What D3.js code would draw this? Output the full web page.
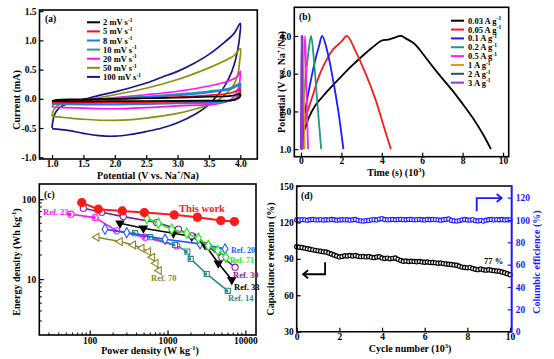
<!DOCTYPE html>
<html><head><meta charset="utf-8">
<script src="https://cdn.jsdelivr.net/npm/d3@7"></script>
<style>
body{margin:0;background:#fff}
svg{font-family:"Liberation Serif","Times New Roman",serif;font-weight:bold}
</style></head><body>
<svg id="c" width="554" height="359"></svg>
<script>
// ---------- Panel (a): CV curves, [potential V, current mA] ----------
const cvLabels = ["2", "5", "8", "10", "20", "50", "100"];
const cvColors = ["#000000", "#ff1010", "#1e78ff", "#21a07e", "#ff10ff", "#8f8f10", "#14148c"];
const cv2 = [[1.0,-0.04],[1.05,-0.02],[1.5,-0.01],[2.0,0.0],[2.5,0.01],[3.0,0.02],[3.5,0.035],[3.85,0.05],[4.0,0.08],[4.0,0.05],[3.97,0.01],[3.9,-0.02],[3.5,-0.03],[3.0,-0.035],[2.0,-0.04],[1.5,-0.045],[1.0,-0.04]];
const cv5 = [[1.0,-0.06],[1.05,-0.04],[1.5,-0.02],[2.0,-0.01],[2.5,0.01],[3.0,0.03],[3.5,0.06],[3.85,0.1],[4.0,0.16],[4.0,0.12],[3.97,0.03],[3.9,-0.02],[3.5,-0.04],[3.0,-0.05],[2.0,-0.06],[1.5,-0.065],[1.0,-0.06]];
const cv8 = [[1.0,-0.08],[1.05,-0.05],[1.5,-0.02],[2.0,0.0],[2.5,0.03],[3.0,0.06],[3.5,0.11],[3.85,0.17],[4.0,0.24],[4.0,0.2],[3.98,0.08],[3.93,0.0],[3.8,-0.04],[3.5,-0.06],[3.0,-0.07],[2.0,-0.09],[1.5,-0.09],[1.0,-0.08]];
const cv10 = [[1.0,-0.09],[1.05,-0.05],[1.5,-0.02],[2.0,0.01],[2.5,0.04],[3.0,0.08],[3.5,0.13],[3.85,0.19],[4.0,0.27],[4.0,0.24],[3.98,0.12],[3.93,0.02],[3.8,-0.04],[3.5,-0.07],[3.0,-0.08],[2.0,-0.1],[1.5,-0.1],[1.0,-0.09]];
const cv20 = [[1.0,-0.14],[1.05,-0.07],[1.2,-0.04],[1.5,-0.02],[2.0,0.02],[2.5,0.07],[3.0,0.13],[3.5,0.22],[3.8,0.3],[3.95,0.38],[4.0,0.47],[4.0,0.44],[3.99,0.3],[3.96,0.15],[3.9,0.04],[3.8,-0.04],[3.6,-0.09],[3.0,-0.12],[2.5,-0.15],[2.0,-0.17],[1.5,-0.16],[1.2,-0.15],[1.0,-0.14]];
const cv50 = [[1.0,-0.30],[1.02,-0.2],[1.08,-0.12],[1.2,-0.07],[1.5,-0.02],[2.0,0.07],[2.5,0.18],[3.0,0.33],[3.5,0.53],[3.75,0.65],[3.9,0.74],[4.0,0.86],[3.99,0.65],[3.96,0.42],[3.9,0.25],[3.8,0.12],[3.65,-0.02],[3.5,-0.1],[3.3,-0.17],[3.0,-0.25],[2.5,-0.33],[2.0,-0.37],[1.5,-0.35],[1.2,-0.32],[1.0,-0.30]];
const cv100 = [[1.0,-0.50],[1.01,-0.40],[1.03,-0.30],[1.07,-0.21],[1.15,-0.13],[1.3,-0.06],[1.5,-0.01],[1.75,0.06],[2.0,0.12],[2.25,0.19],[2.5,0.27],[2.75,0.37],[3.0,0.47],[3.25,0.60],[3.5,0.76],[3.75,0.97],[3.9,1.12],[4.0,1.29],[3.99,1.08],[3.96,0.85],[3.9,0.58],[3.82,0.36],[3.72,0.17],[3.6,0.02],[3.5,-0.1],[3.3,-0.25],[3.0,-0.41],[2.75,-0.5],[2.5,-0.56],[2.25,-0.61],[2.0,-0.64],[1.75,-0.63],[1.5,-0.59],[1.25,-0.54],[1.0,-0.51]];
const cvSeries = [cv2, cv5, cv8, cv10, cv20, cv50, cv100];
const aXTicks = [1.0, 1.5, 2.0, 2.5, 3.0, 3.5, 4.0];
const aYTicks = [-1.0, -0.5, 0.0, 0.5, 1.0, 1.5];

// ---------- Panel (b): GCD curves, [time 10^3 s, potential V] ----------
const gcdLabels = ["0.03", "0.05", "0.1", "0.2", "0.5", "1", "2", "3"];
const gcdColors = ["#000000", "#ff1a1a", "#1a1aff", "#1f9a80", "#ff1aff", "#d4a010", "#2a4a80", "#9a30e0"];
const gcd003 = [[0.05,1.0],[0.1,1.4],[0.2,1.55],[0.4,1.85],[0.7,2.15],[1.0,2.35],[1.5,2.65],[2.0,2.93],[2.5,3.2],[3.0,3.45],[3.5,3.68],[4.0,3.88],[4.3,3.9],[4.6,3.95],[4.95,4.0],[5.2,3.93],[5.6,3.8],[6.0,3.55],[6.5,3.2],[7.0,2.87],[7.5,2.55],[8.0,2.2],[8.5,1.83],[9.0,1.4],[9.4,1.0]];
const gcd005 = [[0.05,1.0],[0.1,1.5],[0.3,1.95],[0.6,2.45],[0.9,2.95],[1.2,3.3],[1.6,3.65],[2.0,3.85],[2.27,4.0],[2.7,3.6],[3.2,3.0],[3.7,2.3],[4.1,1.6],[4.45,1.0]];
const gcd01 = [[0.04,1.0],[0.1,1.6],[0.3,2.3],[0.5,2.85],[0.7,3.35],[0.9,3.75],[1.05,4.0],[1.3,3.6],[1.6,2.8],[1.85,2.0],[2.1,1.0]];
const gcd02 = [[0.03,1.0],[0.1,2.0],[0.25,3.0],[0.4,3.7],[0.5,4.0],[0.65,3.3],[0.8,2.3],[1.0,1.0]];
const gcd05 = [[0.02,1.0],[0.08,2.5],[0.2,4.0],[0.27,2.6],[0.35,1.0]];
const gcd1 = [[0.01,1.0],[0.05,2.6],[0.1,4.0],[0.14,2.5],[0.18,1.0]];
const gcd2 = [[0.0,1.0],[0.025,2.5],[0.05,4.0],[0.07,2.5],[0.09,1.0]];
const gcd3 = [[0.0,1.0],[0.015,2.5],[0.03,4.0],[0.045,2.5],[0.06,1.0]];
const gcdSeries = [gcd003, gcd005, gcd01, gcd02, gcd05, gcd1, gcd2, gcd3];
const bXTicks = [0, 2, 4, 6, 8, 10];
const bYTicks = [1, 2, 3, 4];

// ---------- Panel (c): Ragone plot ----------
const powerThisWork = [79, 129, 262, 504, 1222, 2415, 4830, 7230];
const energyThisWork = [90.7, 75, 71.4, 68, 63.7, 59.6, 54, 52.5];
const powerRef71 = [541, 762, 1132, 1766, 2487, 3345, 4414, 5599];
const energyRef71 = [57.9, 50, 42.2, 37.6, 32.5, 26.3, 22.8, 18.8];
const powerRef30 = [82.8, 143, 270, 726, 1377, 2047, 3345, 4977, 7380];
const energyRef30 = [77.2, 68.8, 60.6, 51, 42.2, 34.8, 25.6, 18.8, 14.1];
const powerRef33 = [245, 489, 1188, 2047, 3033, 4498, 6683];
const energyRef33 = [50, 43.4, 37.6, 34.1, 26.8, 15.8, 9.8];
const powerRef20 = [157, 299, 929, 2618, 5480];
const energyRef20 = [42.2, 38.2, 31.6, 27.6, 23.9];
const powerRef14 = [382, 596, 1247, 1797, 1986, 3190, 5940];
const energyRef14 = [37.6, 33.5, 26.8, 22.1, 17.9, 11.6, 7.14];
const powerRef23 = [57.5, 117, 222, 514, 1313];
const energyRef23 = [64.9, 58.9, 40.2, 33.5, 26.1];
const powerRef70 = [123, 245, 363, 466, 566, 638, 705, 778];
const energyRef70 = [33.5, 29.5, 26.8, 24.4, 22.1, 18.8, 15.8, 12.8];
const cXTicks = [100, 1000, 10000];
const cYTicks = [10, 100];

// ---------- Panel (d): cycling ----------
const retention = [100.0,99.6,99.3,98.8,98.3,97.9,97.4,97.0,96.6,96.2,95.9,95.6,94.8,94.0,93.2,92.4,91.6,92.0,92.6,92.3,92.8,92.4,92.7,92.2,91.8,92.0,91.6,91.9,91.4,91.0,91.5,91.8,90.8,90.3,90.6,90.0,90.4,90.7,89.6,88.6,88.0,88.2,87.8,88.1,87.9,87.6,87.9,87.5,87.2,87.4,86.9,87.0,86.7,86.4,86.6,86.1,85.8,85.6,85.3,85.0,84.7,84.0,83.2,82.9,82.6,82.8,82.0,81.4,81.1,81.6,81.0,80.7,81.0,80.6,80.3,80.0,79.8,79.2,78.5,77.8,77.0];
const efficiency = [100.2,100.0,100.3,100.1,99.8,100.2,100.4,100.1,100.0,100.3,99.9,100.2,100.1,100.4,100.2,99.8,100.0,100.3,100.1,100.2,99.9,100.2,100.4,99.7,99.2,99.0,99.4,99.6,100.1,100.3,100.0,100.8,101.2,100.4,100.1,100.3,100.5,100.2,100.4,100.6,100.3,100.2,100.5,100.4,100.1,100.3,100.6,100.2,100.0,100.4,100.2,100.5,100.3,100.1,99.8,100.2,100.5,100.9,99.6,99.2,99.0,99.5,100.1,100.4,100.0,99.9,100.3,99.4,99.1,99.6,99.0,99.8,100.2,100.4,100.1,100.3,100.2,100.4,100.0,100.2,100.1];
const cycleRange = [0, 10];
const dXTicks = [0, 2, 4, 6, 8, 10];
const dYTicksL = [30, 60, 90, 120, 150];
const dYTicksR = [0, 20, 40, 60, 80, 100, 120];

// ================= drawing =================
const FONT = '"Liberation Serif","Times New Roman",serif';
const svg = d3.select("#c");

function styleAxis(g, color, fs) {
  g.select(".domain").remove();
  g.selectAll(".tick line").attr("stroke", color).attr("stroke-width", 1.2);
  g.selectAll(".tick text").attr("font-family", FONT).attr("font-weight", "bold")
    .attr("font-size", fs || 9.5).attr("fill", color);
}
function frame(x0, y0, x1, y1, color) {
  svg.append("rect").attr("x", x0).attr("y", y0).attr("width", x1 - x0).attr("height", y1 - y0)
    .attr("fill", "none").attr("stroke", color || "#000").attr("stroke-width", 1.6);
}
function richText(x, y, parts, opt) {
  opt = opt || {};
  const fs = opt.fs || 10;
  const t = svg.append("text").attr("x", x).attr("y", y)
    .attr("font-family", FONT).attr("font-weight", "bold")
    .attr("font-size", fs).attr("fill", opt.color || "#000")
    .attr("text-anchor", opt.anchor || "start");
  if (opt.rotate) t.attr("transform", `rotate(-90,${x},${y})`);
  parts.forEach(p => {
    const s = t.append("tspan").text(p[0]);
    if (p[1]) s.attr("font-size", fs * 0.65).attr("dy", -fs * 0.38);
    else if (p[2]) s.attr("dy", fs * 0.38);
  });
  return t;
}

// ---------- (a) ----------
{
  const x = d3.scaleLinear().domain([0.8, 4.27]).range([39.5, 257.3]);
  const y = d3.scaleLinear().domain([-1.03, 1.52]).range([159, 10]);
  const line = d3.line().x(d => x(d[0])).y(d => y(d[1])).curve(d3.curveCatmullRom.alpha(0.5));
  for (let i = cvSeries.length - 1; i >= 0; i--) {
    svg.append("path").attr("d", line(cvSeries[i])).attr("fill", "none")
      .attr("stroke", cvColors[i]).attr("stroke-width", 1.7);
  }
  const gx = svg.append("g").attr("transform", "translate(0,159)")
    .call(d3.axisBottom(x).tickValues(aXTicks).tickFormat(d => d.toFixed(1)).tickSizeInner(-4).tickSizeOuter(0).tickPadding(1));
  styleAxis(gx, "#000");
  const gy = svg.append("g").attr("transform", "translate(39.5,0)")
    .call(d3.axisLeft(y).tickValues(aYTicks).tickFormat(d => d.toFixed(1)).tickSizeInner(-4).tickSizeOuter(0).tickPadding(3));
  styleAxis(gy, "#000");
  frame(39.5, 10, 257.3, 159);
  richText(45, 22, [["(a)"]], {fs: 9.5});
  cvLabels.forEach((lab, i) => {
    const yy = 22.3 + i * 9.1;
    svg.append("line").attr("x1", 87).attr("x2", 100).attr("y1", yy).attr("y2", yy)
      .attr("stroke", cvColors[i]).attr("stroke-width", 2);
    richText(103, yy + 3, [[lab + " mV s"], ["-1", true]], {fs: 8.5});
  });
  richText(148, 178.5, [["Potential (V vs. Na"], ["+", true], ["/Na)", false, true]], {fs: 10, anchor: "middle"});
  richText(20, 100, [["Current (mA)"]], {fs: 10, anchor: "middle", rotate: true});
}

// ---------- (b) ----------
{
  const x = d3.scaleLinear().domain([-0.33, 10.28]).range([294.3, 508.7]);
  const y = d3.scaleLinear().domain([0.8, 4.76]).range([156.7, 7.3]);
  const line = d3.line().x(d => x(d[0])).y(d => y(d[1])).curve(d3.curveCatmullRom.alpha(0.5));
  gcdSeries.forEach((s, i) => {
    svg.append("path").attr("d", line(s)).attr("fill", "none")
      .attr("stroke", gcdColors[i]).attr("stroke-width", 1.8);
  });
  const gx = svg.append("g").attr("transform", "translate(0,156.7)")
    .call(d3.axisBottom(x).tickValues(bXTicks).tickSizeInner(-4).tickSizeOuter(0).tickPadding(1));
  styleAxis(gx, "#000");
  const gy = svg.append("g").attr("transform", "translate(294.3,0)")
    .call(d3.axisLeft(y).tickValues(bYTicks).tickSizeInner(-4).tickSizeOuter(0).tickPadding(3));
  styleAxis(gy, "#000");
  frame(294.3, 7.3, 508.7, 156.7);
  richText(299, 20, [["(b)"]], {fs: 9.5});
  gcdLabels.forEach((lab, i) => {
    const yy = 20.7 + i * 8.85;
    svg.append("line").attr("x1", 451).attr("x2", 464).attr("y1", yy).attr("y2", yy)
      .attr("stroke", gcdColors[i]).attr("stroke-width", 2);
    richText(468, yy + 3, [[lab + " A g"], ["-1", true]], {fs: 8.5});
  });
  richText(396, 176, [["Time (s) (10"], ["3", true], [")", false, true]], {fs: 10, anchor: "middle"});
  richText(285, 82, [["Potential (V vs. Na"], ["+", true], ["/Na)", false, true]], {fs: 10, anchor: "middle", rotate: true});
}

// ---------- (c) ----------
{
  const x = d3.scaleLog().domain([22.5, 13700]).range([39.3, 256]);
  const y = d3.scaleLog().domain([2, 155]).range([335, 184]);
  const minorX = [], minorY = [];
  [10, 100, 1000, 10000].forEach(d => { for (let k = 2; k <= 9; k++) { const v = d * k; if (v > 22.5 && v < 13700) minorX.push(v); } });
  [1, 10, 100].forEach(d => { for (let k = 2; k <= 9; k++) { const v = d * k; if (v > 2 && v < 155) minorY.push(v); } });
  svg.append("g").selectAll("line").data(minorX).join("line")
    .attr("x1", d => x(d)).attr("x2", d => x(d)).attr("y1", 335).attr("y2", 332.5).attr("stroke", "#000");
  svg.append("g").selectAll("line").data(minorY).join("line")
    .attr("y1", d => y(d)).attr("y2", d => y(d)).attr("x1", 39.3).attr("x2", 41.8).attr("stroke", "#000");
  const gx = svg.append("g").attr("transform", "translate(0,335)")
    .call(d3.axisBottom(x).tickValues(cXTicks).tickFormat(d3.format("d")).tickSizeInner(-4.5).tickSizeOuter(0).tickPadding(2));
  styleAxis(gx, "#000");
  const gy = svg.append("g").attr("transform", "translate(39.3,0)")
    .call(d3.axisLeft(y).tickValues(cYTicks).tickFormat(d3.format("d")).tickSizeInner(-4.5).tickSizeOuter(0).tickPadding(3));
  styleAxis(gy, "#000");

  const line = d3.line().x(d => x(d[0])).y(d => y(d[1]));
  const series = [
    {p: powerRef70, e: energyRef70, c: "#8a8a22", sym: "tri", fill: "none", sz: 26},
    {p: powerRef23, e: energyRef23, c: "#ff10ff", sym: "circle", fill: "half", sz: 30},
    {p: powerRef14, e: energyRef14, c: "#2a8a8a", sym: "square", fill: "half", sz: 26},
    {p: powerRef20, e: energyRef20, c: "#1a5aff", sym: "diamond", fill: "none", sz: 30},
    {p: powerRef33, e: energyRef33, c: "#000000", sym: "tridown", fill: "solid", sz: 26},
    {p: powerRef30, e: energyRef30, c: "#8a1a9a", sym: "circle", fill: "none", sz: 30},
    {p: powerRef71, e: energyRef71, c: "#10ee10", sym: "diamond", fill: "none", sz: 30},
    {p: powerThisWork, e: energyThisWork, c: "#ff1a1a", sym: "circle", fill: "solid", sz: 52}
  ];
  const symMap = {circle: d3.symbolCircle, square: d3.symbolSquare, diamond: d3.symbolDiamond, tri: d3.symbolTriangle, tridown: d3.symbolTriangle};
  series.forEach(s => {
    const pts = s.p.map((p, i) => [p, s.e[i]]);
    svg.append("path").attr("d", line(pts)).attr("fill", "none").attr("stroke", s.c)
      .attr("stroke-width", s.sz > 40 ? 2 : 1.6);
    const sym = d3.symbol().type(symMap[s.sym]).size(s.sz);
    pts.forEach(pt => {
      let rot = 0;
      if (s.sym === "tri") rot = -90;
      if (s.sym === "tridown") rot = 180;
      svg.append("path").attr("d", sym())
        .attr("transform", `translate(${x(pt[0])},${y(pt[1])}) rotate(${rot})`)
        .attr("fill", s.fill === "solid" ? s.c : "#fff")
        .attr("stroke", s.c).attr("stroke-width", 1.1);
      if (s.fill === "half") {
        svg.append("path").attr("d", d3.symbol().type(symMap[s.sym]).size(s.sz * 0.35)())
          .attr("transform", `translate(${x(pt[0]) - 1.2},${y(pt[1])})`).attr("fill", s.c);
      }
    });
  });
  frame(39.3, 184, 256, 335);
  richText(44, 198, [["(c)"]], {fs: 9.5});
  richText(202, 212, [["This work"]], {fs: 10.5, color: "#ff1a1a", anchor: "middle"});
  richText(43, 215, [["Ref. 23"]], {fs: 8.5, color: "#ff10ff"});
  richText(231, 253, [["Ref. 20"]], {fs: 8, color: "#1a5aff"});
  richText(230, 262.5, [["Ref. 71"]], {fs: 8, color: "#10ee10"});
  richText(233, 278, [["Ref. 30"]], {fs: 8.5, color: "#8a1a9a"});
  richText(234, 290, [["Ref. 33"]], {fs: 8.5, color: "#000"});
  richText(228, 301, [["Ref. 14"]], {fs: 8.5, color: "#2a8a8a"});
  richText(151, 281, [["Ref. 70"]], {fs: 8.5, color: "#8a8a22"});
  richText(150, 354, [["Power density (W kg"], ["-1", true], [")", false, true]], {fs: 10, anchor: "middle"});
  richText(20, 262, [["Energy density (Wh kg"], ["-1", true], [")", false, true]], {fs: 10, anchor: "middle", rotate: true});
}

// ---------- (d) ----------
{
  const x = d3.scaleLinear().domain(cycleRange).range([296.7, 510]);
  const yL = d3.scaleLinear().domain([30, 150]).range([331.7, 186]);
  const yR = d3.scaleLinear().domain([0, 130.4]).range([331.7, 186]);
  const n1 = retention.length, n2 = efficiency.length;
  const cyc1 = retention.map((_, i) => cycleRange[0] + (cycleRange[1] - cycleRange[0]) * i / (n1 - 1));
  const cyc2 = efficiency.map((_, i) => cycleRange[0] + (cycleRange[1] - cycleRange[0]) * i / (n2 - 1));
  svg.append("g").selectAll("circle").data(efficiency).join("circle")
    .attr("cx", (d, i) => x(cyc2[i])).attr("cy", d => yR(d)).attr("r", 2.1)
    .attr("fill", "#fff").attr("stroke", "#1a1aff").attr("stroke-width", 1.1);
  svg.append("g").selectAll("circle").data(retention).join("circle")
    .attr("cx", (d, i) => x(cyc1[i])).attr("cy", d => yL(d)).attr("r", 2.1)
    .attr("fill", "#fff").attr("stroke", "#000").attr("stroke-width", 1.2);
  const gx = svg.append("g").attr("transform", "translate(0,331.7)")
    .call(d3.axisBottom(x).tickValues(dXTicks).tickSizeInner(-4).tickSizeOuter(0).tickPadding(2));
  styleAxis(gx, "#000");
  const gy = svg.append("g").attr("transform", "translate(296.7,0)")
    .call(d3.axisLeft(yL).tickValues(dYTicksL).tickSizeInner(-4).tickSizeOuter(0).tickPadding(3));
  styleAxis(gy, "#000");
  const gr = svg.append("g").attr("transform", "translate(511.7,0)")
    .call(d3.axisRight(yR).tickValues(dYTicksR).tickSizeInner(-4).tickSizeOuter(0).tickPadding(4));
  styleAxis(gr, "#1a1aff");
  svg.append("path").attr("d", `M511.7,186H296.7V331.7H511.7`).attr("fill", "none").attr("stroke", "#000").attr("stroke-width", 1.6);
  svg.append("line").attr("x1", 511.7).attr("x2", 511.7).attr("y1", 185.2).attr("y2", 332.5).attr("stroke", "#1a1aff").attr("stroke-width", 2);
  const ax1 = x(1.33), ay1 = yL(87.2), ay2 = yL(77.3), axEnd = x(0.3);
  svg.append("path").attr("d", `M${ax1},${ay1}V${ay2}H${axEnd}`).attr("fill", "none").attr("stroke", "#000").attr("stroke-width", 1.8);
  svg.append("path").attr("d", `M${axEnd + 5},${ay2 - 4}L${axEnd},${ay2}L${axEnd + 5},${ay2 + 4}`).attr("fill", "none").attr("stroke", "#000").attr("stroke-width", 1.8);
  const bx1 = x(8.44), by1 = yR(107.8), by2 = yR(119.6), bxEnd = x(9.61);
  svg.append("path").attr("d", `M${bx1},${by1}V${by2}H${bxEnd}`).attr("fill", "none").attr("stroke", "#1a1aff").attr("stroke-width", 1.8);
  svg.append("path").attr("d", `M${bxEnd - 5},${by2 - 4}L${bxEnd},${by2}L${bxEnd - 5},${by2 + 4}`).attr("fill", "none").attr("stroke", "#1a1aff").attr("stroke-width", 1.8);
  richText(301, 199, [["(d)"]], {fs: 9.5});
  richText(484, 264, [["77 %"]], {fs: 8.5});
  richText(410, 352, [["Cycle  number (10"], ["3", true], [")", false, true]], {fs: 10, anchor: "middle"});
  richText(274, 259, [["Capacitance retention (%)"]], {fs: 10, anchor: "middle", rotate: true});
  richText(540, 262, [["Columbic efficience (%)"]], {fs: 10, anchor: "middle", rotate: true, color: "#1a1aff"});
}
</script>
</body></html>
